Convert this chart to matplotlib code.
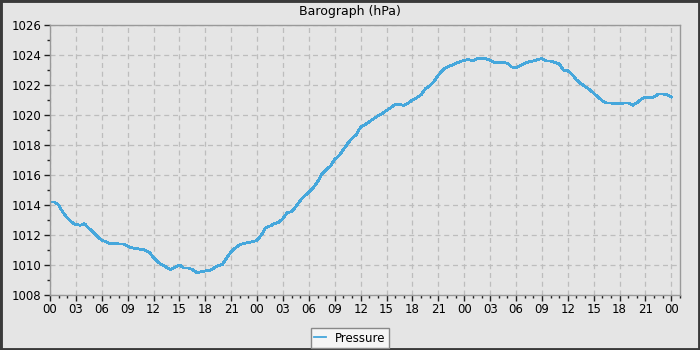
import matplotlib
matplotlib.use('Agg')
import numpy as np
from matplotlib import pyplot as plt
from matplotlib.patches import Rectangle
from matplotlib.ticker import MultipleLocator

# hours since start (every half hour) and pressure readings
hours = [i * 0.5 for i in range(145)]
pressure = [
    1014.2, 1014.2, 1014.0, 1013.5, 1013.15, 1012.85, 1012.7, 1012.65, 1012.75, 1012.45,
    1012.2, 1011.9, 1011.65, 1011.55, 1011.4, 1011.45, 1011.4, 1011.4, 1011.25, 1011.15,
    1011.1, 1011.05, 1011.0, 1010.85, 1010.5, 1010.2, 1010.0, 1009.85, 1009.7, 1009.85,
    1010.0, 1009.8, 1009.8, 1009.7, 1009.5, 1009.55, 1009.6, 1009.65, 1009.8, 1009.95,
    1010.05, 1010.5, 1010.9, 1011.15, 1011.35, 1011.45, 1011.5, 1011.55, 1011.65, 1012.0,
    1012.5, 1012.6, 1012.75, 1012.85, 1013.1, 1013.5, 1013.55, 1013.9, 1014.3, 1014.6,
    1014.85, 1015.15, 1015.55, 1016.05, 1016.35, 1016.6, 1017.05, 1017.3, 1017.7, 1018.1,
    1018.45, 1018.7, 1019.2, 1019.35, 1019.55, 1019.75, 1019.95, 1020.1, 1020.3, 1020.5,
    1020.7, 1020.7, 1020.65, 1020.8, 1021.0, 1021.15, 1021.35, 1021.75, 1021.95, 1022.25,
    1022.65, 1023.0, 1023.2, 1023.3, 1023.45, 1023.55, 1023.65, 1023.7, 1023.6, 1023.75,
    1023.75, 1023.75, 1023.65, 1023.5, 1023.5, 1023.5, 1023.45, 1023.2, 1023.15, 1023.3,
    1023.45, 1023.55, 1023.6, 1023.7, 1023.75, 1023.6, 1023.6, 1023.5, 1023.4, 1023.0,
    1022.95, 1022.7, 1022.35, 1022.1, 1021.9, 1021.7, 1021.45, 1021.2, 1020.95, 1020.8,
    1020.8, 1020.75, 1020.75, 1020.8, 1020.8, 1020.65, 1020.8, 1021.05, 1021.2, 1021.15,
    1021.2, 1021.4, 1021.4, 1021.35, 1021.2,
]
tick_hours = list(range(0, 73, 3))
tick_labels = ['%02d' % (h % 24) for h in tick_hours]

bg = '#e5e5e5'
fig = plt.figure(figsize=(7, 3.5), dpi=100, facecolor=bg)
ax = fig.add_axes([50 / 700, 55 / 350, 630 / 700, 270 / 350])
ax.set_facecolor(bg)

# no antialiasing, to get the crisp pixel look of the original
ax.plot(hours, pressure, color='#45a7dc', lw=1.3, antialiased=False, label='Pressure')

ax.set_xlim(0, 73)
ax.set_ylim(1008, 1026)
ax.set_xticks(tick_hours)
ax.set_xticklabels(tick_labels)
ax.xaxis.set_minor_locator(MultipleLocator(1))
ax.yaxis.set_major_locator(MultipleLocator(2))
ax.yaxis.set_minor_locator(MultipleLocator(1))
ax.tick_params(which='major', length=4, width=1, color='#222222', labelsize=8.5, pad=2)
ax.tick_params(which='minor', length=2, width=1, color='#222222')
ax.grid(True, which='major', ls=(0, (4, 3)), color='#bdbdbd', lw=0.9)
for s in ax.spines.values():
    s.set_color('#999999')
    s.set_linewidth(1)

fig.text(0.5, 1 - 12 / 350, 'Barograph (hPa)', fontsize=9, ha='center', va='center')

leg = fig.legend(loc='center', bbox_to_anchor=(0.5, 1 - 338 / 350), fontsize=8.5,
                 handlelength=1.0, handletextpad=0.8, borderpad=0.3,
                 fancybox=False, framealpha=1)
leg.get_frame().set_facecolor('#f5f5f5')
leg.get_frame().set_edgecolor('#888888')

fig.patches.append(Rectangle((0, 0), 1, 1, transform=fig.transFigure, fill=False,
                             edgecolor='#3a3a3a', lw=3.5))

fig.savefig('out.png', dpi=100, facecolor=bg)
